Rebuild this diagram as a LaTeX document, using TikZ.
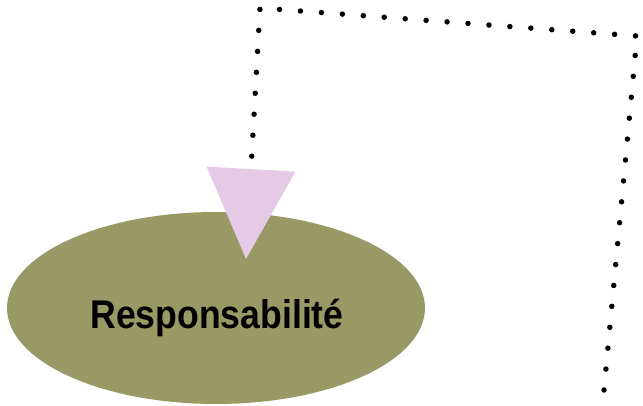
\documentclass[tikz,border=0pt]{standalone}
\usepackage{fontspec}
\setmainfont{Liberation Sans}
\usetikzlibrary{shapes.geometric,arrows.meta}
\definecolor{olivefill}{HTML}{999966}
\definecolor{tippink}{HTML}{E5CAE5}

\begin{document}
\begin{tikzpicture}
[x=1pt,y=-1pt,
  ellipseDecorate/.style={shape=ellipse,fill=olivefill,draw=none,inner sep=0pt,
    minimum width=418pt,minimum height=192pt},%
  textDecorate/.style={font=\bfseries\fontsize{40}{44}\selectfont,xshift=1pt,yshift=-10pt},%
  lineDecorate/.style={line width=5.5pt,line cap=round,dash pattern=on 0pt off 21pt,
    -{Triangle[length=90pt,width=89pt,color=tippink,line width=0pt]}}]
\useasboundingbox (0,0) rectangle (643,406);
%% nodes
\node (resp) at (216,308) [ellipseDecorate,
  label={[textDecorate]center:\scalebox{0.89}[1]{Responsabilité}}] {};
\coordinate (start) at (604,390);
\coordinate (cornerR) at (637,36);
\coordinate (cornerL) at (260,8);
\coordinate (tip) at (246,259);
%% connector
\draw[lineDecorate] (start) -- (cornerR) -- (cornerL) -- (tip);
\end{tikzpicture}
\end{document}
